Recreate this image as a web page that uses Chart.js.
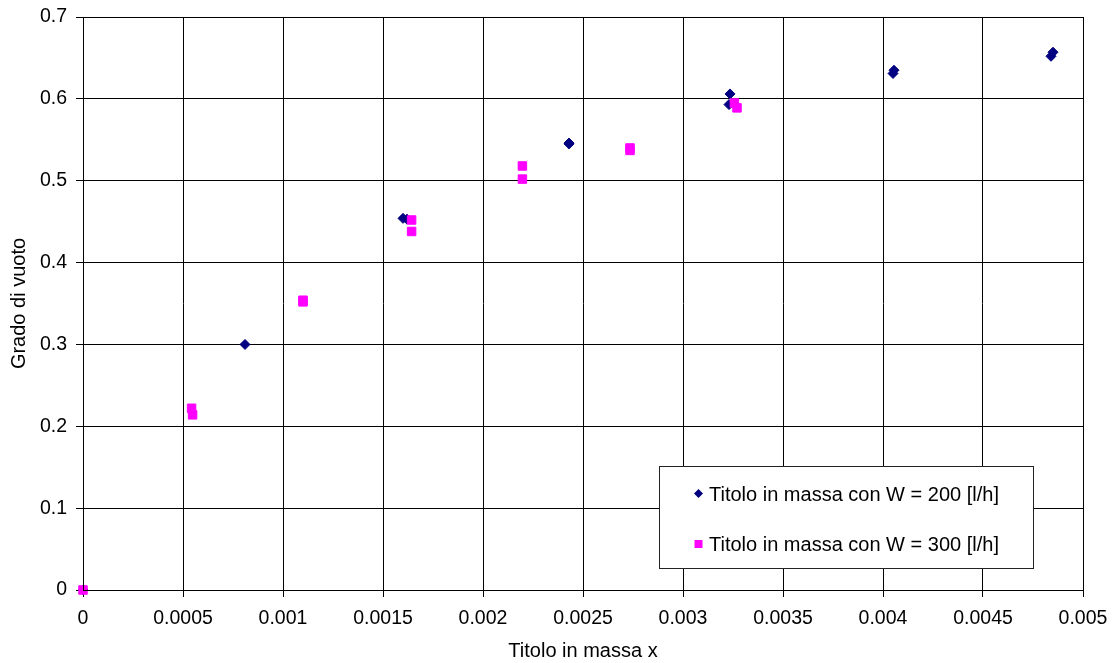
<!DOCTYPE html>
<html>
<head>
<meta charset="utf-8">
<script src="https://cdn.jsdelivr.net/npm/chart.js@4/dist/chart.umd.min.js"></script>
<style>
html,body{margin:0;padding:0;background:#fff;}
#wrap{width:1113px;height:663px;}
</style>
</head>
<body>
<div id="wrap"><canvas id="c" width="1113" height="663"></canvas></div>
<script>
const seriesNames = ["Titolo in massa con W = 200 [l/h]", "Titolo in massa con W = 300 [l/h]"];
const w200X = [0, 0.00081, 0.0016, 0.00162, 0.00243, 0.00243, 0.003235, 0.00323, 0.00405, 0.004055, 0.00484, 0.00485];
const w200Y = [0, 0.300, 0.454, 0.453, 0.545, 0.546, 0.606, 0.593, 0.631, 0.635, 0.652, 0.657];
const w300X = [0, 0.000543, 0.000548, 0.0011, 0.0011, 0.001643, 0.001643, 0.002197, 0.002197, 0.002735, 0.002735, 0.003257, 0.00327];
const w300Y = [0, 0.222, 0.214, 0.354, 0.352, 0.452, 0.438, 0.518, 0.502, 0.540, 0.537, 0.595, 0.589];
const xTickLabels = ["0","0.0005","0.001","0.0015","0.002","0.0025","0.003","0.0035","0.004","0.0045","0.005"];
const yTickLabels = ["0","0.1","0.2","0.3","0.4","0.5","0.6","0.7"];
const xTitle = "Titolo in massa x";
const yTitle = "Grado di vuoto";

const FONT = "'Liberation Sans', Arial, sans-serif";
const pts = (xs, ys) => xs.map((x, i) => ({x: x, y: ys[i]}));

const boxLegend = {
  id: 'boxLegend',
  afterDatasetsDraw(chart) {
    const ctx = chart.ctx;
    const L = 659.5, T = 466.5, W = 374, H = 102;
    ctx.save();
    ctx.fillStyle = '#fff';
    ctx.fillRect(L, T, W, H);
    ctx.strokeStyle = '#222';
    ctx.lineWidth = 1;
    ctx.strokeRect(L, T, W, H);
    ctx.font = "20px " + FONT;
    ctx.textBaseline = 'alphabetic';
    ctx.textAlign = 'left';
    chart.data.datasets.forEach((ds, i) => {
      const cy = 493.5 + i * 50.5;
      const cx = 698.5;
      ctx.fillStyle = ds.backgroundColor;
      ctx.beginPath();
      if (ds.pointStyle === 'rectRot') {
        ctx.moveTo(cx, cy - 4.5); ctx.lineTo(cx + 4.5, cy); ctx.lineTo(cx, cy + 4.5); ctx.lineTo(cx - 4.5, cy);
      } else {
        ctx.rect(cx - 4, cy - 4, 8, 8);
      }
      ctx.closePath();
      ctx.fill();
      ctx.fillStyle = '#000';
      ctx.fillText(ds.label, 709, cy + 7.2);
    });
    ctx.restore();
  }
};

const noPad = s => { s.paddingTop = 0; s.paddingBottom = 0; s.paddingLeft = 0; s.paddingRight = 0; };

new Chart(document.getElementById('c'), {
  type: 'scatter',
  data: {
    datasets: [
      {label: seriesNames[0], data: pts(w200X, w200Y), pointStyle: 'rectRot', radius: 5, borderWidth: 1,
       backgroundColor: '#000080', borderColor: '#000080', clip: false, order: 1},
      {label: seriesNames[1], data: pts(w300X, w300Y), pointStyle: 'rect', radius: 6, borderWidth: 1,
       backgroundColor: '#FF00FF', borderColor: '#FF00FF', clip: false, order: 0}
    ]
  },
  options: {
    responsive: false,
    animation: false,
    layout: {padding: {top: 17, right: 30, left: 0, bottom: 0}},
    plugins: {legend: {display: false}, tooltip: {enabled: false}},
    scales: {
      x: {
        type: 'linear', min: 0, max: 0.005,
        afterFit: s => { s.height = 73; noPad(s); },
        border: {display: true, color: '#000', width: 1},
        grid: {color: '#000', lineWidth: 1, tickLength: 7, tickColor: '#000', drawOnChartArea: true},
        ticks: {stepSize: 0.0005, autoSkip: false, maxRotation: 0, minRotation: 0, padding: 10, color: '#000',
          font: {family: FONT, size: 19.5}, callback: (v, i) => xTickLabels[i]},
        title: {display: true, text: xTitle, color: '#000', font: {family: FONT, size: 20}, padding: {top: 0, bottom: 0}}
      },
      y: {
        type: 'linear', min: 0, max: 0.7,
        afterFit: s => { s.width = 83; noPad(s); },
        border: {display: true, color: '#000', width: 1},
        grid: {color: '#000', lineWidth: 1, tickLength: 7, tickColor: '#000'},
        ticks: {stepSize: 0.1, autoSkip: false, padding: 9, color: '#000',
          font: {family: FONT, size: 19.5}, callback: (v, i) => yTickLabels[i]},
        title: {display: true, text: yTitle, color: '#000', font: {family: FONT, size: 20}, padding: {top: 7, bottom: 0}}
      }
    }
  },
  plugins: [boxLegend, {
    id: 'frame',
    afterDraw(chart) {
      const a = chart.chartArea, ctx = chart.ctx;
      ctx.save();
      ctx.strokeStyle = '#000'; ctx.lineWidth = 1;
      ctx.strokeRect(Math.round(a.left) + 0.5, Math.round(a.top) + 0.5, Math.round(a.right - a.left), Math.round(a.bottom - a.top));
      ctx.restore();
    }
  }]
});
</script>
</body>
</html>
